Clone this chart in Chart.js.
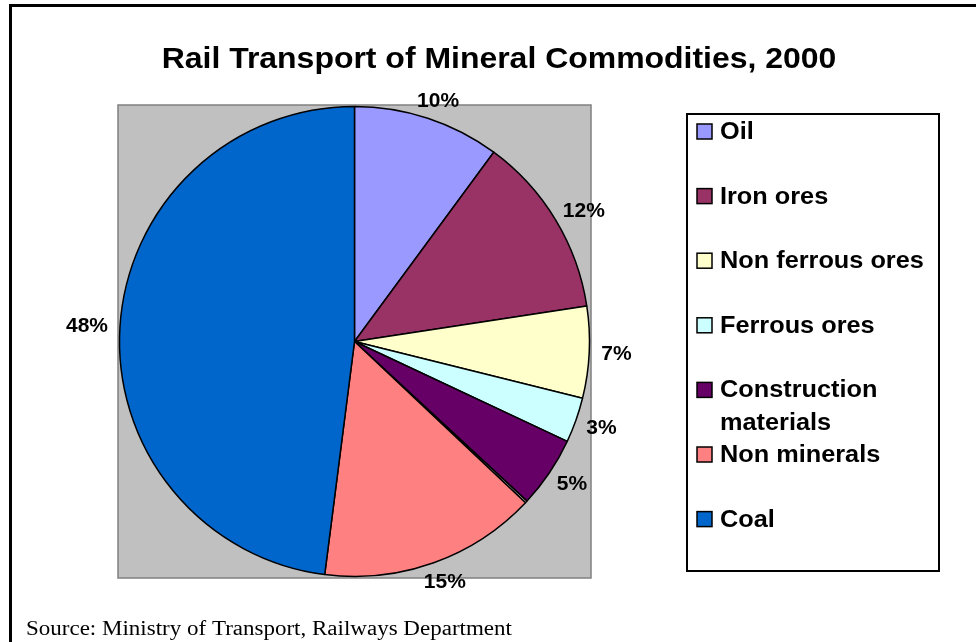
<!DOCTYPE html>
<html>
<head>
<meta charset="utf-8">
<script src="https://cdn.jsdelivr.net/npm/chart.js@4/dist/chart.umd.min.js"></script>
<style>
  html, body { margin: 0; padding: 0; background: #fff; overflow: hidden; }
  #wrap { position: relative; width: 976px; height: 642px; }
  #frame {
    position: absolute; left: 9px; top: 4px; width: 2000px; height: 2000px;
    border-left: 3px solid #000; border-top: 3px solid #000; pointer-events: none;
  }
  canvas { position: absolute; left: 0; top: 0; }
</style>
</head>
<body>
<div id="wrap">
  <canvas id="chart" width="976" height="642"></canvas>
  <div id="frame"></div>
</div>
<script>
// ── Data ───────────────────────────────────────────────────────────────────
const TITLE   = 'Rail Transport of Mineral Commodities, 2000';
const SOURCE  = 'Source: Ministry of Transport, Railways Department';

const categories = ['Oil', 'Iron ores', 'Non ferrous ores', 'Ferrous ores',
                    'Construction materials', 'Other', 'Non minerals', 'Coal'];
const shares     = [10.1, 12.5, 6.3, 3.1, 4.9, 0.15, 15.0, 48.0];
const pctLabels  = ['10%', '12%', '7%', '3%', '5%', '', '15%', '48%'];
const colors     = ['#9999FF', '#993366', '#FFFFCC', '#CCFFFF',
                    '#660066', '#C0C0C0', '#FF8080', '#0066CC'];
const inLegend   = [true, true, true, true, true, false, true, true];

// ── Styles ─────────────────────────────────────────────────────────────────
const SANS  = '"Liberation Sans", Arial, sans-serif';
const SERIF = '"Liberation Serif", "Times New Roman", serif';
const LEGEND_BOX = { x: 687, y: 114, w: 252, h: 457 };

// the original's text is a little wider than the font: stretch horizontally
function stretchText(ctx, txt, x, y, font, sx, align) {
  ctx.save();
  ctx.font = font;
  ctx.fillStyle = '#000';
  ctx.textBaseline = 'alphabetic';
  ctx.textAlign = 'left';
  const w = ctx.measureText(txt).width * sx;
  const left = align === 'center' ? x - w / 2 : x;
  ctx.translate(left, y);
  ctx.scale(sx, 1);
  ctx.fillText(txt, 0, 0);
  ctx.restore();
  return w;
}

// gray plot area behind the pie
const plotArea = {
  id: 'plotArea',
  beforeDatasetsDraw(chart) {
    const { ctx, chartArea: a } = chart;
    ctx.save();
    ctx.fillStyle = '#C0C0C0';
    ctx.fillRect(a.left, a.top, a.width, a.height);
    ctx.strokeStyle = '#808080';
    ctx.lineWidth = 1.5;
    ctx.strokeRect(a.left, a.top, a.width, a.height);
    ctx.restore();
  },
};

// percentage labels outside each slice
const sliceLabels = {
  id: 'sliceLabels',
  afterDatasetsDraw(chart) {
    const { ctx } = chart;
    const font = 'bold 20px ' + SANS;
    const sx = 1.05;
    ctx.save();
    ctx.font = font;
    chart.getDatasetMeta(0).data.forEach((arc, i) => {
      const txt = pctLabels[i];
      if (!txt) return;
      const { x, y, startAngle, endAngle, outerRadius } = arc.getProps(
        ['x', 'y', 'startAngle', 'endAngle', 'outerRadius'], true);
      const mid = (startAngle + endAngle) / 2;
      const r = outerRadius + 12;
      const halfW = ctx.measureText(txt).width * sx / 2;
      const halfH = 7;
      const cx = x + Math.cos(mid) * (r + halfW);
      const cy = y + Math.sin(mid) * r + Math.sin(mid) * halfH;
      stretchText(ctx, txt, cx, cy + halfH, font, sx, 'center');
    });
    ctx.restore();
  },
};

// title, boxed legend and source line
const decorations = {
  id: 'decorations',
  afterDraw(chart) {
    const { ctx } = chart;

    stretchText(ctx, TITLE, 499, 68, 'bold 30px ' + SANS, 1.065, 'center');

    const b = LEGEND_BOX;
    ctx.save();
    ctx.strokeStyle = '#000';
    ctx.lineWidth = 2;
    ctx.strokeRect(b.x, b.y, b.w, b.h);
    ctx.restore();

    const step = 64.6;
    const font = 'bold 23px ' + SANS;
    const sx = 1.1;
    const maxTextW = b.x + b.w - 720 - 4;
    ctx.save();
    ctx.font = font;
    let row = 0;
    categories.forEach((name, i) => {
      if (!inLegend[i]) return;
      const base = b.y + 25 + row * step;
      ctx.fillStyle = colors[i];
      ctx.fillRect(697, base - 15, 15, 15);
      ctx.strokeStyle = '#000';
      ctx.lineWidth = 1.5;
      ctx.strokeRect(697, base - 15, 15, 15);

      // wrap words that do not fit the box
      const lines = [];
      let cur = '';
      name.split(' ').forEach(w => {
        const t = cur ? cur + ' ' + w : w;
        if (cur && ctx.measureText(t).width * sx > maxTextW) { lines.push(cur); cur = w; }
        else cur = t;
      });
      lines.push(cur);
      lines.forEach((ln, k) => stretchText(ctx, ln, 720, base + k * 33, font, sx, 'left'));
      row++;
    });
    ctx.restore();

    stretchText(ctx, SOURCE, 26, 635, '20px ' + SERIF, 1.15, 'left');
  },
};

new Chart(document.getElementById('chart'), {
  type: 'pie',
  data: {
    labels: categories,
    datasets: [{
      data: shares,
      backgroundColor: colors,
      borderColor: '#000',
      borderWidth: 1.5,
      radius: 235,
    }],
  },
  options: {
    responsive: false,
    devicePixelRatio: 1,
    animation: false,
    layout: { padding: { left: 118, top: 105, right: 385, bottom: 64 } },
    plugins: {
      legend: { display: false },
      title: { display: false },
      tooltip: { enabled: false },
    },
  },
  plugins: [plotArea, sliceLabels, decorations],
});
</script>
</body>
</html>
